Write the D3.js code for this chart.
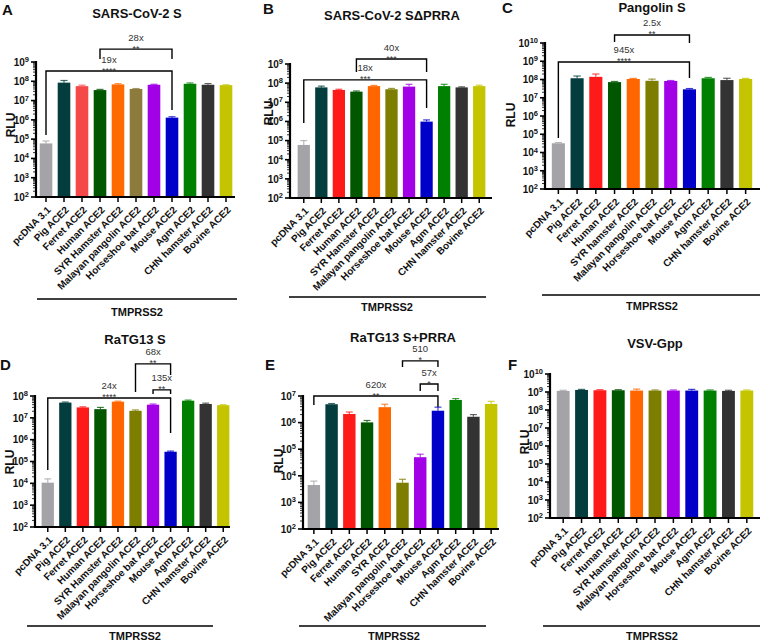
<!DOCTYPE html>
<html><head><meta charset="utf-8">
<script src="https://cdn.jsdelivr.net/npm/d3@7"></script>
<style>
body{margin:0;background:#fff;}
svg{font-family:"Liberation Sans",Arial,sans-serif;}
</style></head>
<body><svg id="c" width="760" height="642"></svg>
<script>
// ---------- DATA ----------
const categories = ["pcDNA 3.1","Pig ACE2","Ferret ACE2","Human ACE2","SYR Hamster ACE2","Malayan pangolin ACE2","Horseshoe bat ACE2","Mouse ACE2","Agm ACE2","CHN hamster ACE2","Bovine ACE2"];
const categoriesC = ["pcDNA 3.1","Pig ACE2","Ferret ACE2","Human ACE2","SYR hamster ACE2","Malayan pangolin ACE2","Horseshoe bat ACE2","Mouse ACE2","Agm ACE2","CHN hamster ACE2","Bovine ACE2"];
const categoriesE = ["pcDNA 3.1","Pig ACE2","Ferret ACE2","Human ACE2","SYR ACE2","Malayan pangolin ACE2","Horseshoe bat ACE2","Mouse ACE2","Agm ACE2","CHN hamster ACE2","Bovine ACE2"];

const colorsA = ["#a3a3a8","#033d3d","#f54848","#005700","#ff6a00","#8c7b3c","#a200e6","#0000c8","#008000","#333333","#c4c400"];
const colors  = ["#a3a3a8","#033d3d","#ff1a1a","#005700","#ff6600","#7d7d00","#a200e6","#0000c8","#008000","#333333","#c4c400"];

const titles = ["SARS-CoV-2 S","SARS-CoV-2 S\u0394PRRA","Pangolin S","RaTG13 S","RaTG13 S+PRRA","VSV-Gpp"];
const letters = ["A","B","C","D","E","F"];

const valuesA = [6e4, 8.5e7, 5.6e7, 3.5e7, 6.9e7, 4.0e7, 6.6e7, 1.3e6, 7.4e7, 6.6e7, 6.3e7];
const errorsA = [8e4, 1.1e8, 6.3e7, 3.8e7, 7.5e7, 4.2e7, 7.0e7, 1.45e6, 8.2e7, 7.6e7, 6.6e7];
const valuesB = [5.9e4, 6e7, 4.4e7, 3.6e7, 7e7, 4.8e7, 6.6e7, 9.8e5, 7e7, 6e7, 7e7];
const errorsB = [1e5, 7e7, 4.8e7, 3.9e7, 7.6e7, 5.3e7, 8.7e7, 1.2e6, 8.7e7, 6.4e7, 7.8e7];
const valuesC = [3.2e4, 1.17e8, 1.4e8, 7.2e7, 1.07e8, 8.5e7, 8.3e7, 2.9e7, 1.17e8, 9.3e7, 1.07e8];
const errorsC = [3.5e4, 1.55e8, 2e8, 7.8e7, 1.15e8, 1.05e8, 8.8e7, 3.2e7, 1.3e8, 1.17e8, 1.15e8];
const valuesD = [1.07e4, 5e7, 3e7, 2.5e7, 5.5e7, 2.1e7, 4e7, 2.8e5, 6.1e7, 4.3e7, 3.8e7];
const errorsD = [1.6e4, 5.3e7, 3.2e7, 3e7, 5.8e7, 2.3e7, 4.3e7, 3e5, 6.5e7, 4.7e7, 4e7];
const valuesE = [4.5e3, 4.9e6, 2.1e6, 1.02e6, 3.8e6, 5.5e3, 5e4, 2.8e6, 7.1e6, 1.66e6, 5e6];
const errorsE = [6.3e3, 5.2e6, 2.5e6, 1.2e6, 4.9e6, 7.4e3, 6.5e4, 3.8e6, 8e6, 2e6, 6.3e6];
const valuesF = [1.15e9, 1.3e9, 1.25e9, 1.25e9, 1.2e9, 1.2e9, 1.2e9, 1.2e9, 1.2e9, 1.15e9, 1.2e9];
const errorsF = [1.25e9, 1.4e9, 1.35e9, 1.35e9, 1.45e9, 1.3e9, 1.3e9, 1.4e9, 1.3e9, 1.25e9, 1.3e9];

// y-axis decade exponents (tick labels 10^n)
const expA = [2,3,4,5,6,7,8,9];
const expB = [2,3,4,5,6,7,8,9];
const expC = [2,3,4,5,6,7,8,9,10];
const expD = [2,3,4,5,6,7,8];
const expE = [2,3,4,5,6,7];
const expF = [2,3,4,5,6,7,8,9,10];

// significance brackets: from/to category index, level (log10), leg ends (log10), fold label, stars
const bracketsA = [
  {from:0,to:7,level:8.53,leftEnd:5.21,rightEnd:6.51,fold:"19x",stars:"****"},
  {from:3,to:7,level:9.67,leftEnd:9.16,rightEnd:9.16,fold:"28x",stars:"**"}
];
const bracketsB = [
  {from:0,to:7,level:8.17,leftEnd:5.92,rightEnd:6.70,fold:"18x",stars:"***"},
  {from:3,to:7,level:9.26,leftEnd:8.58,rightEnd:8.58,fold:"40x",stars:"***"}
];
const bracketsC = [
  {from:0,to:7,level:8.96,leftEnd:4.79,rightEnd:8.08,fold:"945x",stars:"****"},
  {from:3,to:7,level:10.44,leftEnd:10.05,rightEnd:10.0,fold:"2.5x",stars:"**"}
];
const bracketsD = [
  {from:0,to:7,level:7.91,leftEnd:4.61,rightEnd:6.31,fold:"24x",stars:"****"},
  {from:5,to:7,level:9.47,leftEnd:8.18,rightEnd:8.96,fold:"68x",stars:"**"},
  {from:6,to:7,level:8.28,leftEnd:8.09,rightEnd:8.09,fold:"135x",stars:"**"}
];
const bracketsE = [
  {from:0,to:7,level:7.0,leftEnd:6.66,rightEnd:6.59,fold:"620x",stars:"**"},
  {from:6,to:7,level:7.45,leftEnd:7.19,rightEnd:7.19,fold:"57x",stars:"*"},
  {from:5,to:7,level:8.32,leftEnd:8.09,rightEnd:8.09,fold:"510",stars:"*"}
];
const bracketsF = [];

const groupLabel = "TMPRSS2";
const yLabel = "RLU";

// ---------- LAYOUT ----------
const layouts = [
  {axisX:36, axisEnd:235, band:[37,235], yPx:[197,62], title:[137,18], letter:[2,15], rlu:[11,125], under:[37,237,299], group:[137,316]},
  {axisX:290, axisEnd:492, band:[295,488], yPx:[198,64], title:[392,20], letter:[263,14], rlu:[269,113], under:[289,486,297], group:[387,311]},
  {axisX:545, axisEnd:760, band:[549,755], yPx:[189,43], title:[652,12], letter:[502,13], rlu:[511,115], under:[542,760,295], group:[652,310]},
  {axisX:35, axisEnd:230, band:[39,232], yPx:[527,396], title:[135,344], letter:[0,370], rlu:[10,462], under:[27,213,626], group:[135,640]},
  {axisX:303, axisEnd:499, band:[305,500], yPx:[529,396], title:[403,342], letter:[265,370], rlu:[279,461], under:[299,486,626], group:[394,640]},
  {axisX:550, axisEnd:760, band:[554,756], yPx:[518,374], title:[655,348], letter:[508,370], rlu:[525,442], under:[543,760,626], group:[652,640]}
];

const panels = [
  {cats:categories, vals:valuesA, errs:errorsA, exps:expA, brackets:bracketsA, cols:colorsA},
  {cats:categories, vals:valuesB, errs:errorsB, exps:expB, brackets:bracketsB, cols:colors},
  {cats:categoriesC, vals:valuesC, errs:errorsC, exps:expC, brackets:bracketsC, cols:colors},
  {cats:categories, vals:valuesD, errs:errorsD, exps:expD, brackets:bracketsD, cols:colors},
  {cats:categoriesE, vals:valuesE, errs:errorsE, exps:expE, brackets:bracketsE, cols:colors},
  {cats:categories, vals:valuesF, errs:errorsF, exps:expF, brackets:bracketsF, cols:colors}
];

const svg = d3.select("#c");

panels.forEach((p, i) => {
  const L = layouts[i];
  const g = svg.append("g");
  const minE = d3.min(p.exps), maxE = d3.max(p.exps);
  const y = d3.scaleLog().domain([Math.pow(10,minE), Math.pow(10,maxE)]).range(L.yPx);
  const x = d3.scaleBand().domain(p.cats).range(L.band).paddingInner(0.3).paddingOuter(0.15);
  const bw = x.bandwidth();
  const base = L.yPx[0];

  // bars
  p.cats.forEach((c, k) => {
    const col = p.cols[k];
    const v = p.vals[k], e = p.errs[k];
    const cx = x(c) + bw/2;
    g.append("line").attr("x1",cx).attr("x2",cx).attr("y1",y(v)).attr("y2",y(e))
      .attr("stroke",col).attr("stroke-width",1.2).attr("opacity",0.75);
    g.append("line").attr("x1",cx-bw*0.28).attr("x2",cx+bw*0.28).attr("y1",y(e)).attr("y2",y(e))
      .attr("stroke",col).attr("stroke-width",1.2).attr("opacity",0.75);
    g.append("rect").attr("x",x(c)).attr("width",bw).attr("y",y(v)).attr("height",base - y(v))
      .attr("fill",col);
  });

  // y axis
  g.append("line").attr("x1",L.axisX).attr("x2",L.axisX).attr("y1",base+1).attr("y2",L.yPx[1]-1)
    .attr("stroke","#000").attr("stroke-width",2.2);
  for (let d = minE; d <= maxE; d++) {
    const yy = y(Math.pow(10,d));
    g.append("line").attr("x1",L.axisX-5).attr("x2",L.axisX).attr("y1",yy).attr("y2",yy)
      .attr("stroke","#000").attr("stroke-width",1.6);
    const t = g.append("text").attr("x",L.axisX-7).attr("y",yy).attr("dy","0.38em")
      .attr("text-anchor","end").attr("font-size",10).attr("font-weight","bold").attr("fill","#111");
    t.append("tspan").text("10");
    t.append("tspan").attr("dy","-0.5em").attr("font-size",7.5).text(String(d));
    if (d < maxE) {
      for (let m = 2; m <= 9; m++) {
        const ym = y(m*Math.pow(10,d));
        g.append("line").attr("x1",L.axisX-3).attr("x2",L.axisX).attr("y1",ym).attr("y2",ym)
          .attr("stroke","#000").attr("stroke-width",0.8);
      }
    }
  }
  // x axis
  g.append("line").attr("x1",L.axisX-1).attr("x2",L.axisEnd).attr("y1",base).attr("y2",base)
    .attr("stroke","#000").attr("stroke-width",2);
  p.cats.forEach(c => {
    const cx = x(c) + bw/2;
    g.append("line").attr("x1",cx).attr("x2",cx).attr("y1",base).attr("y2",base+5)
      .attr("stroke","#000").attr("stroke-width",1.5);
    g.append("text").attr("transform",`translate(${cx+3},${base+11}) rotate(-45)`)
      .attr("text-anchor","end").attr("dy","0.35em").attr("font-size",10).attr("font-weight","bold")
      .attr("fill","#111").text(c);
  });

  // brackets
  p.brackets.forEach(b => {
    const x1 = x(p.cats[b.from]) + bw/2, x2 = x(p.cats[b.to]) + bw/2;
    const yl = y(Math.pow(10,b.level));
    const pathD = `M${x1},${y(Math.pow(10,b.leftEnd))}V${yl}H${x2}V${y(Math.pow(10,b.rightEnd))}`;
    g.append("path").attr("d",pathD).attr("fill","none").attr("stroke","#000").attr("stroke-width",1.4);
    const mx = (x1+x2)/2;
    g.append("text").attr("x",mx).attr("y",yl-8.5).attr("text-anchor","middle").attr("font-size",9.5)
      .attr("fill","#333").text(b.fold);
    g.append("text").attr("x",mx).attr("y",yl+2.5).attr("text-anchor","middle").attr("font-size",9)
      .attr("fill","#333").text(b.stars);
  });

  // titles etc
  g.append("text").attr("x",L.title[0]).attr("y",L.title[1]).attr("text-anchor","middle")
    .attr("font-size",13).attr("font-weight","bold").attr("fill","#111").text(titles[i]);
  g.append("text").attr("x",L.letter[0]).attr("y",L.letter[1]).attr("font-size",15)
    .attr("font-weight","bold").attr("fill","#111").text(letters[i]);
  g.append("text").attr("transform",`translate(${L.rlu[0]},${L.rlu[1]}) rotate(-90)`)
    .attr("text-anchor","middle").attr("dy","0.35em").attr("font-size",12).attr("font-weight","bold")
    .attr("fill","#111").text(yLabel);
  g.append("line").attr("x1",L.under[0]).attr("x2",L.under[1]).attr("y1",L.under[2]).attr("y2",L.under[2])
    .attr("stroke","#000").attr("stroke-width",1.4);
  g.append("text").attr("x",L.group[0]).attr("y",L.group[1]).attr("text-anchor","middle")
    .attr("font-size",11).attr("font-weight","bold").attr("fill","#111").text(groupLabel);
});
</script></body></html>
